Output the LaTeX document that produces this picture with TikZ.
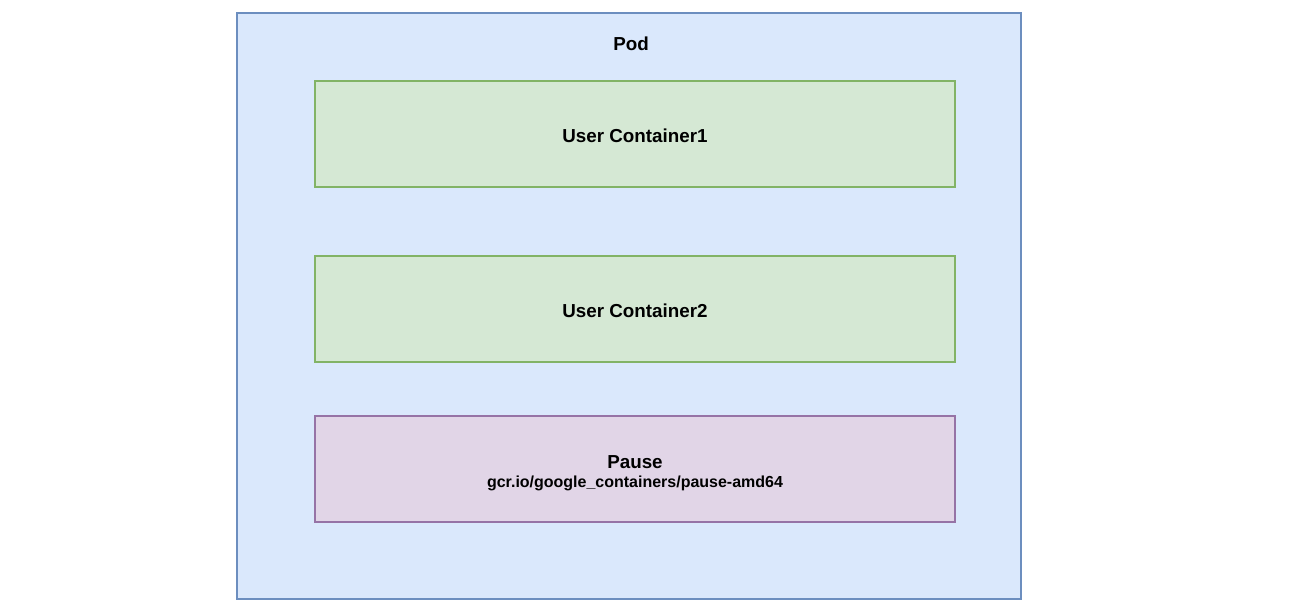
\documentclass[tikz,border=0pt]{standalone}
\usepackage{fontspec}
\setmainfont{Liberation Sans}
\usetikzlibrary{positioning}
\definecolor{podfill}{HTML}{DAE8FC}
\definecolor{podline}{HTML}{6C8EBF}
\definecolor{userfill}{HTML}{D5E8D4}
\definecolor{userline}{HTML}{82B366}
\definecolor{pausefill}{HTML}{E1D5E7}
\definecolor{pauseline}{HTML}{9673A6}
\newcommand{\bigtxt}{\fontsize{10.7pt}{12pt}\selectfont\bfseries}
\newcommand{\smalltxt}{\fontsize{9.1pt}{10pt}\selectfont\bfseries}

\begin{document}
\begin{tikzpicture}[x=0.02cm,y=-0.02cm,
  box/.style={draw,line width=1.1pt,minimum width=12.8cm,minimum height=2.12cm,inner sep=0pt,align=center},
  userbox/.style={box,fill=userfill,draw=userline},
  pausebox/.style={box,fill=pausefill,draw=pauseline}]
  \useasboundingbox (0,0) rectangle (1291,608);
  % pod
  \node[draw=podline,fill=podfill,line width=1.1pt,minimum width=15.68cm,minimum height=11.72cm,inner sep=0pt]
    (pod) at (629,306) {};
  \node[font=\bigtxt] (podlabel) at (631,44) {Pod};
  % containers
  \node[userbox,font=\bigtxt] (user1) at (635,134) {};
  \node[font=\bigtxt] (user1label) at (635,136) {User Container1};
  \node[userbox] (user2) at (635,309) {};
  \node[font=\bigtxt] (user2label) at (635,311) {User Container2};
  \node[pausebox] (pause) at (635,469) {};
  \node[font=\bigtxt] (pausename) at (635,462) {Pause};
  \node[font=\smalltxt] (pauseimg) at (635,483) {gcr.io/google\_containers/pause-amd64};
\end{tikzpicture}
\end{document}
